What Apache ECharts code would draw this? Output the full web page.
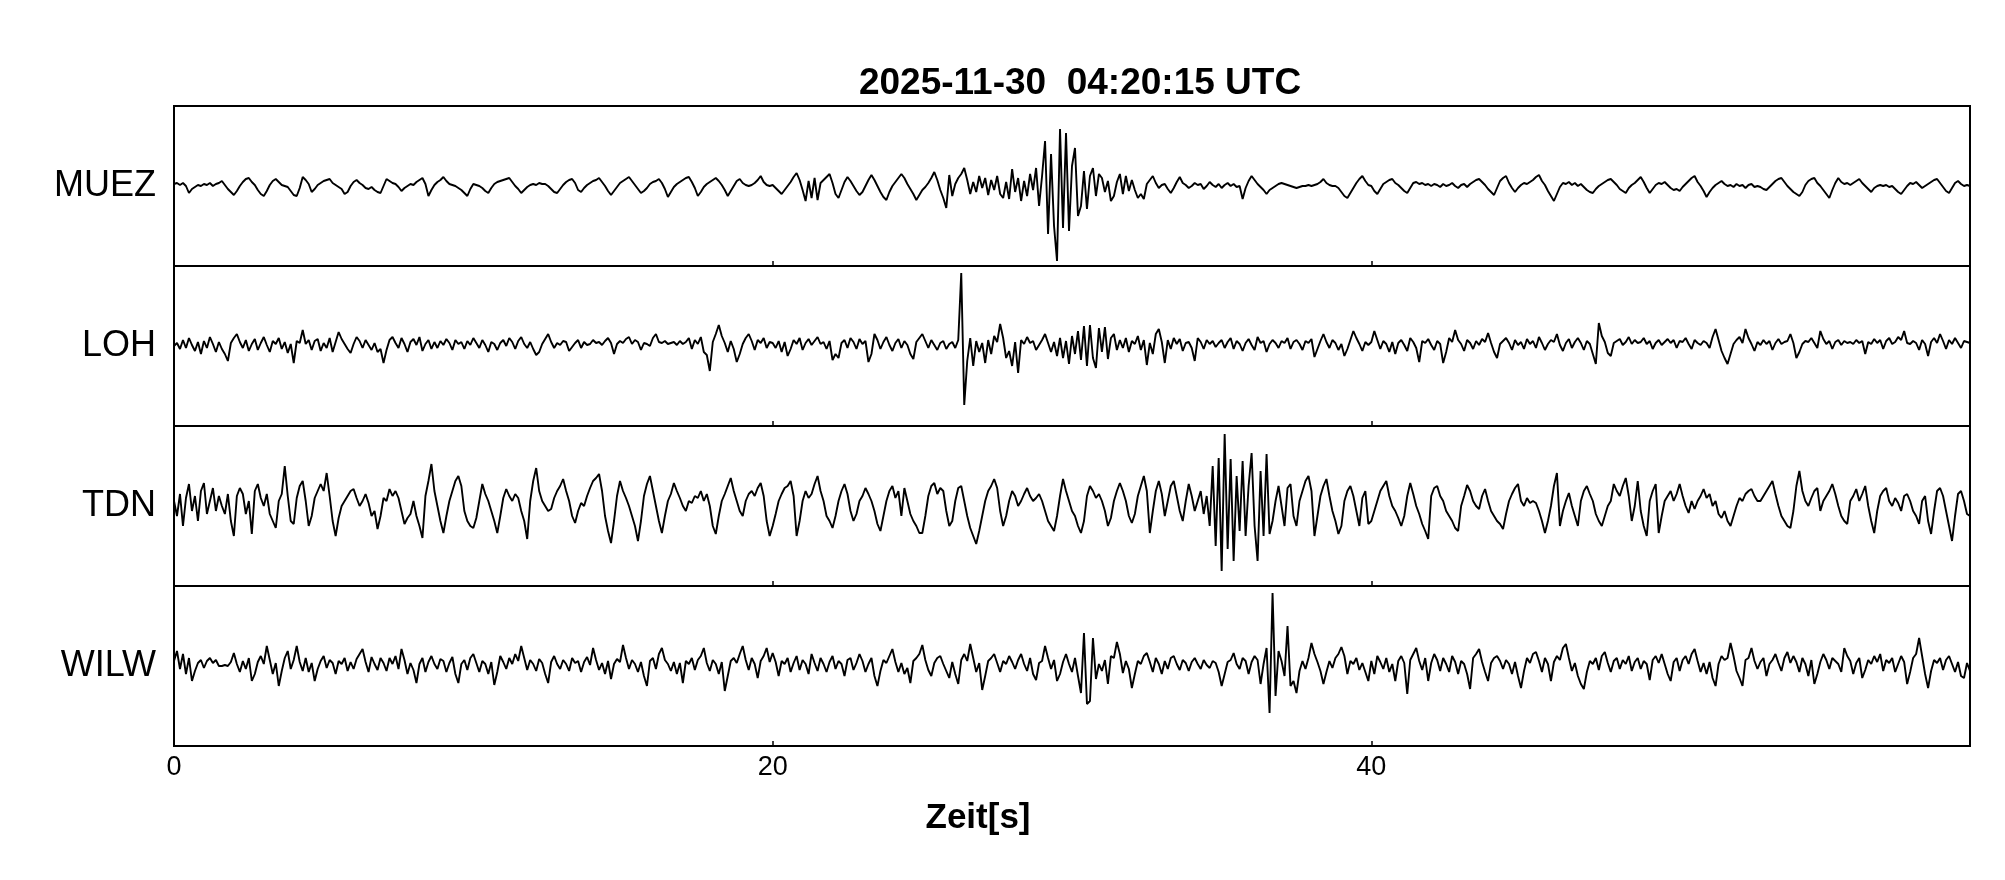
<!DOCTYPE html>
<html>
<head>
<meta charset="utf-8">
<script src="https://cdn.jsdelivr.net/npm/echarts@6/dist/echarts.min.js"></script>
<style>html,body{margin:0;padding:0;background:#fff}#c{width:2005px;height:880px}</style>
</head>
<body>
<div id="c"></div>
<script>
const TITLE = '2025-11-30  04:20:15 UTC';
const XLABEL = 'Zeit[s]';
const STATIONS = ['MUEZ', 'LOH', 'TDN', 'WILW'];
const DT = 0.1;
const X_TICKS = [0, 20, 40];

// amplitudes (arbitrary units, 0 = trace baseline), one value every 0.1 s
const MUEZ = [
2,3,1,3,0,-7,-3,-1,1,0, 2,1,3,0,2,3,5,1,-3,-6, -9,-5,0,4,7,8,4,1,-4,-8, -10,-5,1,5,7,4,1,0,-1,-5,
-9,-10,-2,9,6,2,-6,-3,1,3, 5,6,7,3,1,-1,-3,-8,-6,0, 4,6,3,1,-2,-3,-1,-4,-6,-7, 0,7,5,3,2,-1,-5,-2,0,2,
1,4,6,8,2,-10,-4,1,4,6, 9,5,2,1,0,-2,-4,-7,-10,-3, 2,1,0,-2,-5,-7,-2,2,4,5, 6,7,8,4,0,-3,-7,-4,-1,1,
2,1,3,2,2,0,-3,-6,-7,-3, 1,4,6,7,3,-4,-6,-2,1,3, 5,6,8,4,0,-5,-9,-5,-1,3, 5,7,9,5,1,-3,-7,-5,-2,2,
4,5,7,3,-3,-11,-6,-1,2,4, 6,8,9,4,-2,-10,-6,-1,2,4, 6,8,5,1,-4,-10,-5,0,5,7, 3,1,0,1,3,6,10,4,1,0,
1,-2,-5,-8,-4,0,4,9,13,6, -4,-15,5,-12,8,-14,3,6,9,12, 3,-8,-12,-4,4,9,5,0,-5,-9, -6,0,6,11,6,0,-6,-11,-14,-6,
0,4,8,12,8,2,-3,-8,-14,-9, -4,-1,3,8,14,6,-4,-12,-22,11, -10,2,8,12,18,6,-8,4,-6,10, -2,8,-9,6,-4,10,-8,-12,4,-13,
17,-6,8,-15,5,-10,12,-4,18,-20, 10,45,-48,32,-40,-75,57,-42,53,-45, 20,38,-30,-20,15,-23,10,18,-10,12, 8,-6,5,-15,-10,4,12,-8,10,-5,
6,-4,-12,-8,-13,2,6,10,3,-2, 1,2,-3,-7,-2,4,9,3,1,-2, 0,3,1,2,-3,0,4,1,-1,2, -2,1,3,0,2,-1,0,-13,-2,5,
10,6,2,-1,-4,-8,-4,-2,0,2, 3,2,1,0,-1,-2,-1,0,0,1, 0,1,2,4,7,3,1,0,0,-2, -6,-10,-12,-7,-2,3,7,10,5,1,
0,-5,-8,-3,2,4,6,7,3,1, -2,-5,-7,-2,3,4,2,3,1,2, 0,2,1,-1,2,0,1,3,0,-2, 1,2,-1,2,4,6,7,4,1,-3,
-6,-9,-2,5,8,10,3,-2,-6,-2, 1,3,2,4,6,9,11,5,1,-5, -10,-15,-8,-1,3,2,4,1,3,0, 2,-1,-4,-6,-7,-3,0,2,4,6,
7,4,1,-3,-5,-7,-2,1,3,6, 9,4,-2,-7,-3,1,3,2,4,1, -2,-4,-3,-5,-1,2,5,8,10,4, 0,-5,-11,-6,-2,1,3,5,2,0,
1,-1,2,0,1,-2,1,2,-1,0, -1,-3,-4,-1,2,5,7,8,4,0, -3,-6,-8,-10,-6,1,5,7,8,3, 0,-4,-8,-12,-4,3,8,4,2,3,
1,3,5,7,3,0,-3,-6,-2,0, 1,0,1,-1,0,-3,-6,-8,-4,0, 3,2,4,1,-2,0,2,4,6,7, 3,-1,-5,-7,-2,3,5,2,0,1,
0];

const LOH = [
0,3,-3,6,-2,8,1,-5,4,-8, 5,-2,9,2,-6,4,-3,-8,-15,3, 8,12,4,-2,6,-5,2,7,-4,3, 9,1,-6,5,2,8,-3,4,-7,2,
-17,5,3,16,2,6,-4,5,7,-5, 3,-2,8,-6,4,14,7,2,-3,-7, 2,9,5,-2,6,1,-4,3,-6,-3, -17,-4,6,9,3,-2,8,2,-6,4,
7,1,9,-5,2,6,-3,4,-2,5, 1,7,3,-4,6,2,4,-3,5,1, 8,3,-2,6,1,-6,4,2,-4,3, 6,0,8,4,-3,5,9,2,-2,4,
-3,-9,-6,2,7,12,4,-2,3,1, 5,4,-5,-1,3,6,-2,4,1,2, 6,3,4,1,5,8,3,-8,2,5, 3,7,9,2,6,4,-4,3,2,0,
8,12,4,3,5,2,3,4,1,5, 2,4,8,-3,6,2,9,-6,-9,-25, 4,12,21,10,3,-6,5,-3,-16,-8, 2,8,12,5,-4,6,3,8,-2,4,
3,-2,5,-6,4,-10,-3,6,2,8, -4,3,7,1,5,9,2,4,-3,5, -14,-8,-12,3,6,-2,8,4,-3,7, 2,5,-16,-8,12,6,-3,4,9,1,
-5,3,7,-2,5,1,-8,-13,4,8, 12,5,-2,6,1,-4,3,5,-3,2, 4,-2,6,73,-59,-15,8,-20,5,-6, 3,-17,6,-8,10,4,22,8,-12,-5,
-20,4,-27,6,2,9,3,5,-4,1, 6,12,3,-6,4,-10,8,-12,5,-18, 10,-8,15,-14,20,-20,21,-12,-22,18, -6,19,-13,8,12,-4,6,-2,8,-6,
5,2,10,-4,6,-19,3,-8,12,17, 4,-17,6,-3,8,2,7,-5,3,4, -2,-15,8,4,-3,6,2,5,-1,3, 6,-2,4,8,-3,5,2,-5,3,7,
1,-4,9,3,5,-6,2,6,3,-2, 5,3,8,-3,4,6,2,-4,5,3, 7,-11,-3,5,12,4,-2,6,3,-4, 2,-10,-3,6,15,8,2,-5,4,1,
4,15,6,-3,5,2,-6,4,-8,3, 6,1,-5,8,4,-2,-16,5,3,7, 1,-4,5,2,-17,-6,8,4,16,6, 2,-5,6,3,-3,5,1,7,4,13,
3,-6,-12,2,5,8,3,-4,6,1, 4,-3,7,2,5,-2,9,3,-4,2, 6,4,12,1,-5,3,7,-2,4,8, 3,-4,5,2,-8,-18,23,10,4,-7,
-10,3,5,7,1,4,9,2,6,3, 4,8,2,5,-3,3,6,1,4,7, 3,6,-2,5,4,8,2,-3,6,3, 1,5,3,-2,9,17,6,-5,-12,-18,
-8,2,6,9,3,17,8,2,-5,4, 1,6,2,5,-4,3,7,2,4,5, 12,3,-12,-6,2,5,4,8,3,-2, 15,7,2,5,-3,4,6,1,5,3,
4,2,6,3,5,-8,4,2,7,3, 6,-3,5,8,2,4,9,6,15,3, 2,5,3,-4,6,2,-10,4,8,3, 12,5,-3,6,2,8,3,-2,5,4,
3];

const TDN = [
5,-10,12,-20,8,22,-5,10,-15,15, 23,-8,5,18,-5,10,0,-8,12,-15, -30,10,18,12,-8,5,-28,15,22,8, 0,12,-8,-15,-22,5,12,40,10,-15,
-18,8,20,25,5,-20,-10,8,15,22, 15,33,10,-15,-30,-12,0,5,10,15, 17,8,0,5,12,3,-10,-5,-23,-10, 8,5,17,10,15,8,-5,-18,-12,-8,
5,-10,-20,-32,10,25,42,15,0,-15, -27,-10,5,15,25,30,20,-5,-15,-20, -22,-12,5,22,12,5,-5,-15,-27,-10, 8,17,10,5,12,8,-5,-15,-33,5,
25,38,15,5,0,-5,-3,8,15,20, 27,15,5,-10,-17,-5,3,0,10,18, 25,28,32,15,-10,-25,-37,-15,10,25, 15,8,0,-10,-20,-35,-15,10,22,30,
15,0,-15,-27,-10,5,12,23,15,8, 0,-5,5,3,10,8,15,5,12,0, -20,-28,-10,5,12,20,28,15,5,-5, -10,5,12,15,10,18,23,10,-15,-30,
-20,-8,5,12,18,20,25,10,-30,-15, 5,15,8,12,22,30,15,5,-10,-15, -22,-10,5,15,22,12,-5,-15,-8,5, 10,18,12,5,-5,-18,-25,-10,5,15,
20,8,15,-10,18,5,-8,-15,-20,-27, -27,-10,10,20,23,12,18,15,-5,-20, -15,5,18,20,5,-10,-22,-30,-38,-25, -10,5,15,20,27,18,-5,-20,-10,5,
15,10,0,5,12,18,10,5,8,12, 5,-5,-15,-20,-25,-10,10,27,15,5, -5,-10,-20,-27,-15,10,20,15,8,12, 5,-5,-20,-12,5,15,23,15,5,-10,
-17,-8,10,20,30,15,-27,-5,15,25, 12,-10,5,20,25,10,-5,-15,5,22, 10,-5,5,15,-8,10,-20,40,-40,48, -65,72,-43,47,-55,30,-25,45,-30,20,
53,-20,-55,35,-30,52,-28,-15,5,20, 0,-20,18,22,-10,-20,5,15,25,30, 15,-30,-10,10,20,27,10,-5,-15,-28, -20,5,15,20,10,-5,-20,8,15,-18,
-15,-5,5,15,20,25,10,0,-5,-12, -20,-10,10,23,12,0,-8,-18,-25,-33, 10,18,20,10,5,-5,-10,-15,-22,-25, 0,10,21,15,5,0,-3,10,17,5,
-5,-10,-15,-18,-23,-8,5,12,18,22, 5,0,8,3,5,3,-5,-15,-27,-15, 0,20,33,-20,-5,5,13,0,-10,-20, 5,15,20,12,5,-8,-15,-20,-10,0,
5,22,15,10,20,28,10,-15,0,25, -5,-20,-30,5,15,22,-27,-10,5,10, 15,5,12,22,10,0,-7,5,-3,5, 10,17,8,12,0,5,-8,-12,-5,-15,
-20,-10,0,8,5,12,15,17,10,5, 5,10,15,20,25,12,0,-10,-15,-20, -22,-5,20,35,15,5,0,8,15,18, -5,5,10,15,22,12,0,-10,-15,-18,
5,10,17,5,12,20,0,-15,-27,-5, 10,15,18,5,0,8,3,-5,10,12, 5,-5,-10,-18,5,10,-15,-28,-5,15, 18,10,-5,-20,-35,-10,12,15,5,-8,
-10];

const WILW = [
5,15,-3,12,-8,8,-15,-5,3,6, -2,5,8,3,6,0,0,1,0,4, 13,2,-6,5,-3,8,-15,-8,4,10, 2,20,6,-8,3,-20,-5,8,15,-3,
6,20,4,-5,8,-6,3,-15,-3,5, 10,-2,6,3,-8,5,2,8,-5,4, -3,7,12,17,4,-6,9,2,-4,8, 3,-5,8,2,10,-3,17,6,-8,3,
-4,-17,2,8,-6,4,10,2,-3,7, 5,-6,3,9,-8,-17,2,6,-4,8, 12,3,-6,5,2,-8,4,-19,-6,10, 4,-3,8,2,12,5,20,8,-4,6,
2,-5,7,3,-8,-17,4,10,2,-3, 6,2,-5,8,3,5,-6,4,9,1, 18,6,-4,3,-8,5,-13,2,7,4, 21,8,-3,6,2,-6,4,-10,-20,5,
8,-3,12,18,6,2,-5,4,-8,3, -17,5,2,8,-4,6,10,18,3,-5, 6,2,-8,4,-25,-10,5,8,3,12, 20,6,-4,8,2,-12,5,10,18,4,
13,4,-10,5,2,8,-6,3,10,-4, 6,2,-8,12,3,-5,8,2,-6,4, 10,-3,5,2,-10,6,8,-4,3,12, 5,-6,2,8,-10,-20,-5,6,3,10,
17,4,-6,3,-8,-2,-17,5,8,12, 21,6,-4,-10,3,8,10,2,-5,-12, 4,-8,-18,6,12,5,22,8,-6,3, -24,-10,5,8,12,3,-6,5,2,10,
4,-3,6,12,2,-5,8,-8,-14,3, 5,20,8,-3,6,-15,-8,4,12,2, -6,8,-10,-27,33,-38,-35,28,-13,2, -5,6,-18,10,8,24,12,-7,5,-3,
-22,-8,5,2,10,13,4,-6,8,2, -8,5,-3,8,10,2,-4,6,3,-5, 4,8,2,-3,6,1,-2,5,3,-6, -20,-8,4,6,13,2,-3,8,5,-8,
4,10,6,-18,2,18,-47,73,-30,15, 5,-10,40,-20,-15,-27,-5,5,-3,8, 23,12,4,-5,-18,-6,5,-2,8,12, 19,10,-8,5,2,8,-4,3,-6,-15,
5,-8,10,4,-3,8,-6,2,-15,5, 10,3,-28,6,12,18,5,-4,8,-15, 3,12,6,-5,8,2,-6,10,4,-8, 5,2,-8,-23,8,12,17,4,-6,-15,
3,8,10,5,-3,6,2,-8,4,-10, -22,-5,8,3,12,14,5,-6,8,2, -15,4,10,6,18,22,8,-5,3,-10, -18,-23,-6,5,2,8,-4,10,14,3,
-6,5,8,-3,6,2,10,-5,4,8, -3,5,2,-14,6,10,3,12,2,-8, -15,4,8,-5,6,10,2,12,17,5, -6,3,-8,4,-12,-20,2,10,6,8,
23,10,-5,-12,-20,6,8,18,5,-3, 4,8,-10,2,6,12,3,-5,8,14, 3,10,4,-6,8,2,-10,6,-18,-8, 4,12,6,-3,8,5,2,-6,18,10,
5,-8,3,8,-12,-4,6,2,10,4, 12,-5,6,3,8,-6,2,10,4,-18, -6,8,12,28,10,-8,-22,-5,6,3, 8,-4,6,10,2,-6,4,-10,-12,3,
-5];

const TRACES = [MUEZ, LOH, TDN, WILW];

const chart = echarts.init(document.getElementById('c'), null, {renderer: 'canvas'});
const FONT = '"Liberation Sans", Arial, Helvetica, sans-serif';
const PANEL_TOP = 106, PANEL_H = 160, LEFT = 174, RIGHT = 35;

const grids = [], xAxes = [], yAxes = [], series = [];
STATIONS.forEach((name, i) => {
  const last = i === STATIONS.length - 1;
  grids.push({
    left: LEFT, right: RIGHT, top: PANEL_TOP + i * PANEL_H, height: PANEL_H,
    show: true, borderColor: '#000', borderWidth: 2, backgroundColor: 'transparent', containLabel: false
  });
  xAxes.push({
    gridIndex: i, type: 'value', min: 0, max: 60, interval: 20, position: 'bottom',
    axisLine: {show: false, onZero: false}, splitLine: {show: false},
    axisTick: {show: true, inside: true, length: 5, lineStyle: {color: '#000', width: 1.5}},
    axisLabel: {
      show: last, fontSize: 27, color: '#000', fontFamily: FONT, margin: 8,
      showMaxLabel: false,
      formatter: v => (X_TICKS.indexOf(v) >= 0 ? String(v) : '')
    }
  });
  yAxes.push({
    gridIndex: i, type: 'value', min: -80, max: 80, interval: 80,
    axisLine: {show: false}, axisTick: {show: false}, splitLine: {show: false},
    axisLabel: {
      fontSize: 36, color: '#000', fontFamily: FONT, margin: 18,
      formatter: v => (v === 0 ? name : '')
    }
  });
  series.push({
    type: 'line', xAxisIndex: i, yAxisIndex: i, showSymbol: false, symbol: 'none',
    sampling: false, animation: false, clip: true,
    lineStyle: {color: '#000', width: 1.9},
    data: TRACES[i].map((v, k) => [k * DT, v])
  });
});

chart.setOption({
  animation: false,
  backgroundColor: '#fff',
  title: [
    {text: TITLE, left: 1080, top: 65, textAlign: 'center', padding: 0,
     textStyle: {fontSize: 37, fontWeight: 'bold', color: '#000', fontFamily: FONT}},
    {text: XLABEL, left: 978, top: 801, textAlign: 'center', padding: 0,
     textStyle: {fontSize: 35, fontWeight: 'bold', color: '#000', fontFamily: FONT}}
  ],
  grid: grids, xAxis: xAxes, yAxis: yAxes, series: series
});
</script>
</body>
</html>
